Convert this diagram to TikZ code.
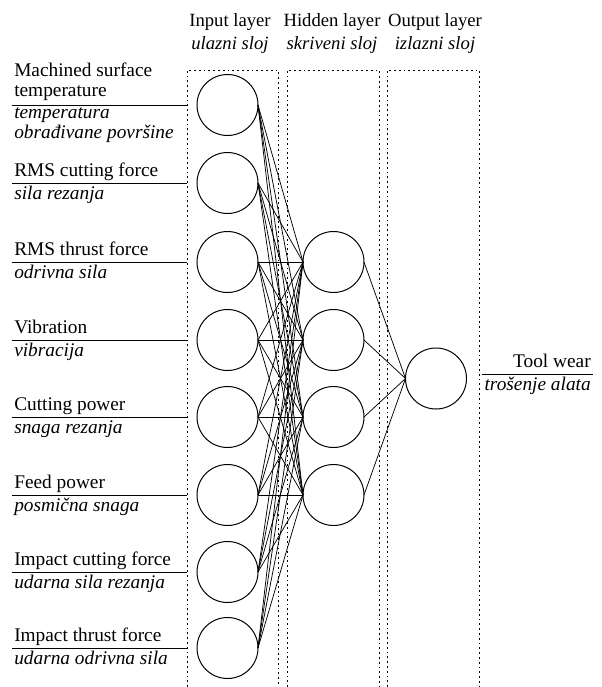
\documentclass[tikz,border=0pt]{standalone}
\usepackage{fontspec}
\setmainfont{Liberation Serif}
\usetikzlibrary{positioning}

\begin{document}
\begin{tikzpicture}[x=0.75pt, y=-0.75pt,
  neuron/.style={circle, draw, line width=0.75pt, inner sep=0pt, outer sep=0pt, minimum size=45.75pt},
  layerbox/.style={line width=0.75pt, dash pattern=on 1.3pt off 2.3pt},
  syn/.style={line width=0.55pt},
  labelline/.style={line width=0.7pt},
  hdr/.style={align=center, font=\fontsize{14}{17.25}\selectfont},
  engl/.style={anchor=south west, align=left, inner xsep=1.5pt, inner ysep=4.5pt, text depth=0pt, font=\fontsize{14.5}{15}\selectfont},
  cro/.style={anchor=north west, align=left, inner xsep=1.5pt, inner ysep=1.5pt, font=\fontsize{14.5}{15}\selectfont\itshape, execute at begin node=\strut}
]
  \useasboundingbox (0,0) rectangle (602,687);

  % layer frames, open at the bottom
  \coordinate (inbox) at (187,70);
  \coordinate (outbox) at (479,70);
  \draw[layerbox] (187,687) |- (278,70) -- (278,687);
  \draw[layerbox] (287,687) |- (379,70) -- (379,687);
  \draw[layerbox] (387,687) |- (479,70) -- (479,687);

  \node[hdr] (hin) at (230,34) {Input layer\\\textit{ulazni sloj}};
  \node[hdr] (hhid) at (332,34) {Hidden layer\\\textit{skriveni sloj}};
  \node[hdr] (hout) at (435,34) {Output layer\\\textit{izlazni sloj}};

  % input layer
  \node[neuron] (in1) at (227.5,105) {};
  \node[neuron] (in2) at (227.5,183) {};
  \node[neuron] (in3) at (227.5,262) {};
  \node[neuron] (in4) at (227.5,340) {};
  \node[neuron] (in5) at (227.5,417) {};
  \node[neuron] (in6) at (227.5,495) {};
  \node[neuron] (in7) at (227.5,572) {};
  \node[neuron] (in8) at (227.5,648) {};

  % hidden layer
  \node[neuron] (hid1) at (333.5,262) {};
  \node[neuron] (hid2) at (333.5,340) {};
  \node[neuron] (hid3) at (333.5,417) {};
  \node[neuron] (hid4) at (333.5,495) {};

  % output layer
  \node[neuron] (out) at (436,378.5) {};

  \foreach \i in {1,...,8}
    \foreach \j in {1,...,4}
      \draw[syn] (in\i.east) -- (hid\j.west);
  \foreach \j in {1,...,4}
    \draw[syn] (hid\j.east) -- (out.west);

  % input labels
  \coordinate (l1) at (12,105);
  \coordinate (l2) at (12,183);
  \coordinate (l3) at (12,262);
  \coordinate (l4) at (12,340);
  \coordinate (l5) at (12,417);
  \coordinate (l6) at (12,495);
  \coordinate (l7) at (12,572);
  \coordinate (l8) at (12,648);

  \node[engl, inner ysep=6pt] (e1) at (l1) {Machined surface\\temperature};
  \node[cro] (c1) at (l1) {temperatura\\obrađivane površine};
  \node[engl] (e2) at (l2) {RMS cutting force};
  \node[cro] (c2) at (l2) {sila rezanja};
  \node[engl] (e3) at (l3) {RMS thrust force};
  \node[cro] (c3) at (l3) {odrivna sila};
  \node[engl] (e4) at (l4) {Vibration};
  \node[cro] (c4) at (l4) {vibracija};
  \node[engl] (e5) at (l5) {Cutting power};
  \node[cro] (c5) at (l5) {snaga rezanja};
  \node[engl] (e6) at (l6) {Feed power};
  \node[cro] (c6) at (l6) {posmična snaga};
  \node[engl] (e7) at (l7) {Impact cutting force};
  \node[cro] (c7) at (l7) {udarna sila rezanja};
  \node[engl] (e8) at (l8) {Impact thrust force};
  \node[cro] (c8) at (l8) {udarna odrivna sila};

  \foreach \i in {1,...,8}
    \draw[labelline] (l\i) -- (l\i -| inbox);

  % output label
  \coordinate (tw) at (593,374);
  \node[engl, anchor=south east] (eout) at (tw) {Tool wear};
  \node[cro, anchor=north east] (cout) at (tw) {trošenje alata};
  \draw[labelline] (tw -| outbox) ++(3,0) coordinate (tws) -- (tw);
\end{tikzpicture}
\end{document}
